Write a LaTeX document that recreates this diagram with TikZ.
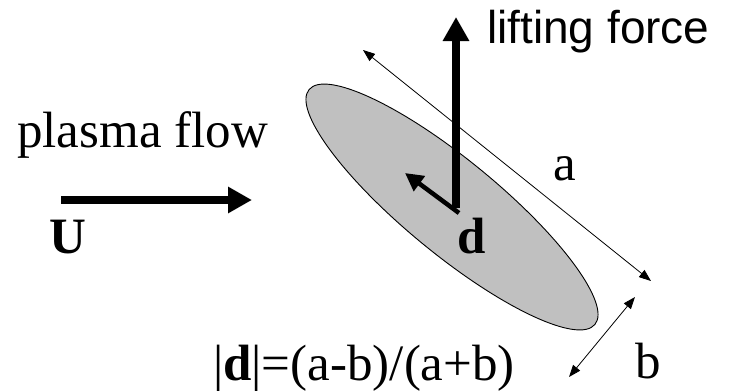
\documentclass[tikz,border=0pt]{standalone}
\usepackage{fontspec}
\setmainfont{Liberation Serif}
\newfontfamily\arialfont{Liberation Sans}
\usepackage{tikz}
\usetikzlibrary{arrows.meta,shapes.geometric}
\definecolor{bodygray}{RGB}{192,192,192}
\tikzset{
  body/.style={ellipse, draw=black, line width=0.9pt, fill=bodygray, inner sep=0pt, minimum width=370pt, minimum height=94pt},
  label/.style={inner sep=0pt, anchor=base west, font=\fontsize{51}{60}\selectfont},
  sanslabel/.style={inner sep=0pt, anchor=base west, font=\arialfont\fontsize{46}{55}\selectfont},
  bigarrow/.style={-{Triangle[length=24pt, width=25pt]}, line width=8pt},
  smallarrow/.style={-{Triangle[length=18pt, width=18pt]}, line width=4.5pt},
  dimarrow/.style={{Triangle[length=12pt, width=9pt]}-{Triangle[length=12pt, width=9pt]}, line width=0.8pt}
}
\begin{document}
\begin{tikzpicture}[x=1pt, y=-1pt]
\useasboundingbox (0,0) rectangle (732,391);
% the body in the flow
\node[body, rotate=-39.4] (body) at (452,207) {};
% flow
\coordinate (flowtail) at (61,200);
\coordinate (flowhead) at (252,200);
\draw[bigarrow] (flowtail) -- (flowhead);
\node[label] (flow) at (17,147) {plasma flow};
\node[label] (U) at (49,253) {\textbf{U}};
% lifting force and d
\coordinate (liftfoot) at (456,208);
\coordinate (lifttip) at (456,17);
\draw[bigarrow] (liftfoot) -- (lifttip);
\node[sanslabel] (lift) at (487,43) {lifting force};
\coordinate (dfoot) at (459,213);
\coordinate (dtip) at (405,173);
\draw[smallarrow] (dfoot) -- (dtip);
\node[label] (d) at (457,253) {\textbf{d}};
% sizes a and b
\coordinate (astart) at (363,50);
\coordinate (aend) at (651,281);
\draw[dimarrow] (astart) -- (aend);
\node[label] (a) at (553,180) {a};
\coordinate (bstart) at (635,297);
\coordinate (bend) at (569,377);
\draw[dimarrow] (bstart) -- (bend);
\node[label] (b) at (635,378) {b};
\node[label] (formula) at (213,380) {|\textbf{d}|=(a-b)/(a+b)};
\end{tikzpicture}
\end{document}
